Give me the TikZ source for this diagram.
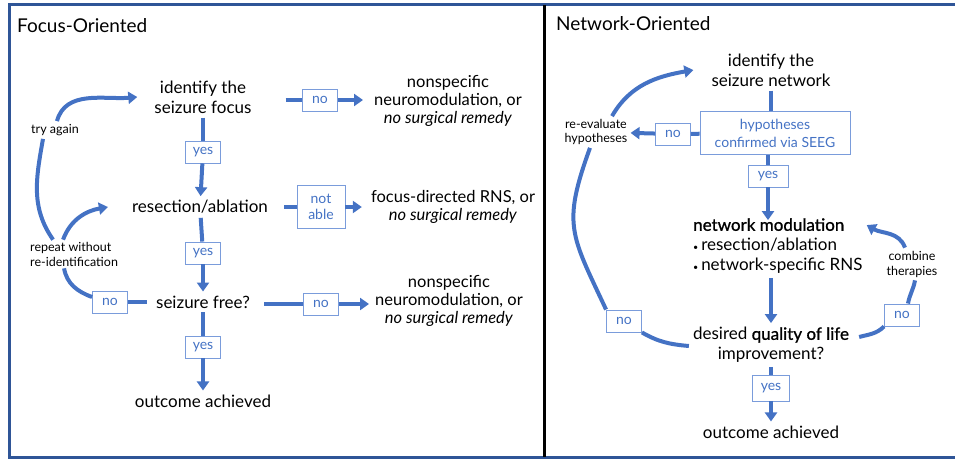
\documentclass[tikz,border=0pt]{standalone}
\usepackage{fontspec}
\setmainfont{Lato}
\newfontfamily\semib{Lato}[FakeBold=1]
\usetikzlibrary{arrows.meta}
\definecolor{ublue}{HTML}{4472C4}
\definecolor{boxblue}{HTML}{7A9CDB}
\definecolor{frameblue}{HTML}{2F5597}
\begin{document}
\begin{tikzpicture}[x=1pt,y=-1pt,
  lbl/.style={align=center,inner sep=4pt,font=\fontsize{17}{20}\selectfont},
  side/.style={align=center,inner sep=3pt,font=\fontsize{16.5}{18}\selectfont},
  tag/.style={align=center,inner sep=3pt,font=\fontsize{12.5}{15}\selectfont},
  choice/.style={draw=boxblue,text=ublue,line width=0.9pt,align=center,inner sep=2pt,
    minimum width=35pt,minimum height=22pt,font=\fontsize{14}{18}\selectfont},
  link/.style={draw=ublue,line width=4pt},
  flow/.style={link,-{Triangle[length=9pt,width=12pt]}},
  title/.style={anchor=west,inner sep=0pt,font=\fontsize{19}{22}\selectfont}]
\useasboundingbox (0,0) rectangle (955,460);
\draw[frameblue,line width=3pt] (955,5) -- (9,5) -- (9,457) -- (955,457);
\draw[black,line width=3pt] (544,5) -- (544,457);
\node[title] (tf) at (17,26) {Focus-Oriented};
\node[title] (tn) at (556,24) {Network-Oriented};
\node[lbl] (idf) at (203,97) {identify the\\seizure focus};
\node[choice] (y1) at (203,152) {yes};
\node[lbl] (rsc) at (200,207) {resection/ablation};
\node[choice] (y2) at (203,253) {yes};
\node[lbl] (sfr) at (203,302) {seizure free?};
\node[choice] (y3) at (203,347) {yes};
\node[lbl] (out1) at (203,401) {outcome achieved};
\node[choice] (n1) at (320,100) {no};
\node[choice,minimum width=48pt,minimum height=43pt] (na) at (321,207) {not\\[-2pt]able};
\node[choice] (n2) at (321,304) {no};
\node[side] (nsp1) at (448,101) {nonspecific\\neuromodulation, or\\\textit{no surgical remedy}};
\node[side] (fdr) at (453,207) {focus-directed RNS, or\\\textit{no surgical remedy}};
\node[side] (nsp2) at (449,301) {nonspecific\\neuromodulation, or\\\textit{no surgical remedy}};
\node[choice] (n0) at (110,302) {no};
\node[tag] (again) at (55,130) {try again};
\node[tag,anchor=west,align=left,inner sep=2pt] (rep) at (28,254) {repeat without\\re-identification};
\draw[link] (idf) -- (y1);
\draw[flow] (y1) -- (rsc);
\draw[link] (rsc) -- (y2);
\draw[flow] (y2) -- (sfr);
\draw[link] (sfr) -- (y3);
\draw[flow] (y3) -- (out1);
\draw[link,shorten <=30pt] (idf.east |- n1) -- (n1);
\draw[flow,shorten >=8pt] (n1) -- (nsp1.west |- n1);
\draw[link,shorten <=12pt] (rsc.east |- na) -- (na);
\draw[flow,shorten >=6pt] (na) -- (fdr.west |- na);
\draw[link,shorten <=10pt] (sfr.east |- n2) -- (n2);
\draw[flow,shorten >=3pt] (n2) -- (nsp2.west |- n2);
\draw[link,shorten >=5pt] (n0) -- (sfr.west |- n0);
\draw[link] ([yshift=5pt]n0.west) to[out=160,in=-80] ([xshift=-10pt]rep.south);
\draw[flow] ([xshift=-11pt]rep.north) to[out=70,in=190] ([xshift=-20pt]rsc.west);
\draw[link] ([xshift=-21pt]rep.north) to[out=125,in=-100] ([xshift=-12pt]again.south);
\draw[flow] ([xshift=2pt]again.north) to[out=75,in=185] ([xshift=-13pt]idf.west);
\node[lbl] (net) at (771,70) {identify the\\seizure network};
\node[choice,minimum width=150pt,minimum height=43pt] (seeg) at (775,133) {hypotheses\\confirmed via SEEG};
\node[choice] (nb) at (673,134) {no};
\node[tag,font=\fontsize{12.5}{14}\selectfont] (reval) at (596,132) {re-evaluate\\hypotheses};
\node[choice,minimum width=40pt] (y4) at (768,176) {yes};
\node[lbl,anchor=west,align=left,inner sep=0pt] (mod) at (693,246) {{\semib network modulation}\\{\small\textbullet}\,resection/ablation\\{\small\textbullet}\,network-specific RNS};
\node[lbl] (dql) at (771,345) {desired {\semib quality of life}\\improvement?};
\node[choice,minimum width=37pt,minimum height=26pt] (y5) at (771,388) {yes};
\node[lbl] (out2) at (771,432) {outcome achieved};
\node[choice] (nl) at (624,321) {no};
\node[choice] (nr) at (902,315) {no};
\node[tag] (comb) at (912,264) {combine\\therapies};
\draw[link] (net) -- (net |- seeg.north);
\draw[link] (seeg.south -| y4) -- (y4);
\draw[flow] (y4) -- ([yshift=-2pt]y4 |- mod.north);
\draw[link] (seeg) -- (nb);
\draw[flow] (nb) -- (reval);
\draw[flow] ([xshift=16pt]reval.north) to[out=60,in=190] ([xshift=-14pt]net.west);
\draw[link] ([xshift=-6pt]reval.south) to[out=-110,in=115,looseness=1.3] (nl.north west);
\draw[link] (nl.south east) to[out=-30,in=175] ([yshift=-1pt]dql.west);
\draw[flow] ([yshift=-4pt]mod.south -| dql) -- (dql);
\draw[link] (dql) -- (y5);
\draw[flow] (y5) -- (out2);
\draw[link] ([yshift=8pt,xshift=6pt]dql.east) to[out=15,in=-135] (nr.south west);
\draw[link] ([xshift=6pt]nr.north) to[out=80,in=-100] ([xshift=3pt]comb.south);
\draw[flow] ([xshift=-7pt]comb.north) to[out=110,in=-30] ([xshift=4pt,yshift=-7pt]mod.north east);
\end{tikzpicture}
\end{document}
